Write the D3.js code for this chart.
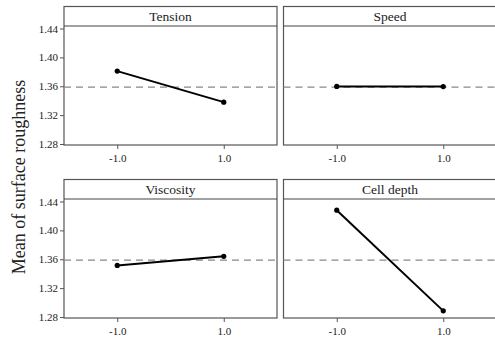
<!DOCTYPE html>
<html>
<head>
<meta charset="utf-8">
<script src="https://cdn.jsdelivr.net/npm/d3@7"></script>
<style>
  html, body { margin: 0; padding: 0; background: #fff; }
  svg { display: block; }
  text { font-family: "Liberation Serif", "Times New Roman", serif; }
</style>
</head>
<body>
<svg id="chart" width="495" height="340"></svg>
<script>
// Main effects of the four factors on mean surface roughness
const factors = ["Tension", "Speed", "Viscosity", "Cell depth"];
const levels = [-1, 1];
const tension = [1.381, 1.338];
const speed = [1.3598, 1.3595];
const viscosity = [1.3515, 1.364];
const cellDepth = [1.428, 1.2885];
const grandMean = 1.3588;
const yTicks = [1.28, 1.32, 1.36, 1.40, 1.44];
const xTickLabels = ["-1.0", "1.0"];
const yTitle = "Mean of surface roughness";

const seriesList = [tension, speed, viscosity, cellDepth];

const svg = d3.select("#chart");

const panelW = 213, panelH = 138.5, stripH = 19.5;
const colX = [64, 283.5];
const rowY = [6.5, 179.5];

const x = d3.scaleLinear().domain([-2, 2]);
const y = d3.scaleLinear().domain([1.28, 1.44]);

factors.forEach((name, i) => {
  const col = i % 2, row = Math.floor(i / 2);
  const x0 = colX[col], y0 = rowY[row];
  const xs = x.copy().range([x0, x0 + panelW]);
  const ys = y.copy().range([y0 + panelH - 1, y0 + stripH + 2.5]);
  const g = svg.append("g");

  // frame
  g.append("rect")
    .attr("x", x0).attr("y", y0)
    .attr("width", panelW).attr("height", panelH)
    .attr("fill", "none").attr("stroke", "#555").attr("stroke-width", 1.2);
  // strip bottom
  g.append("line")
    .attr("x1", x0).attr("x2", x0 + panelW)
    .attr("y1", y0 + stripH).attr("y2", y0 + stripH)
    .attr("stroke", "#444").attr("stroke-width", 1.2);
  g.append("text")
    .attr("x", x0 + panelW / 2).attr("y", y0 + stripH - 5)
    .attr("text-anchor", "middle")
    .attr("font-size", "13.5px").attr("fill", "#222")
    .text(name);

  // grand mean reference
  g.append("line")
    .attr("x1", x0).attr("x2", x0 + panelW)
    .attr("y1", ys(grandMean)).attr("y2", ys(grandMean))
    .attr("stroke", "#888").attr("stroke-width", 1.4)
    .attr("stroke-dasharray", "7,5");

  // x axis
  const xa = g.append("g")
    .attr("transform", `translate(0,${y0 + panelH})`)
    .call(d3.axisBottom(xs).tickValues(levels).tickSize(4).tickPadding(5)
      .tickFormat((d, k) => xTickLabels[k]));
  xa.select(".domain").remove();
  xa.selectAll("line").attr("stroke", "#555");
  xa.selectAll("text").attr("font-size", "11px").attr("fill", "#222");

  // y axis only on left column
  if (col === 0) {
    const ya = g.append("g")
      .attr("transform", `translate(${x0},0)`)
      .call(d3.axisLeft(ys).tickValues(yTicks).tickSize(4).tickPadding(2)
        .tickFormat(d3.format(".2f")));
    ya.select(".domain").remove();
    ya.selectAll("line").attr("stroke", "#555");
    ya.selectAll("text").attr("font-size", "11px").attr("fill", "#222");
  }

  // effect line and points
  const vals = seriesList[i];
  const pts = levels.map((l, k) => [l, vals[k]]);
  g.append("path")
    .datum(pts)
    .attr("d", d3.line().x(d => xs(d[0])).y(d => ys(d[1])))
    .attr("fill", "none").attr("stroke", "#000").attr("stroke-width", 2);
  g.selectAll("circle").data(pts).join("circle")
    .attr("cx", d => xs(d[0])).attr("cy", d => ys(d[1]))
    .attr("r", 2.6).attr("fill", "#000");
});

svg.append("text")
  .attr("transform", "translate(25,177) rotate(-90)")
  .attr("text-anchor", "middle")
  .attr("font-size", "18px").attr("fill", "#222")
  .text(yTitle);
</script>
</body>
</html>
